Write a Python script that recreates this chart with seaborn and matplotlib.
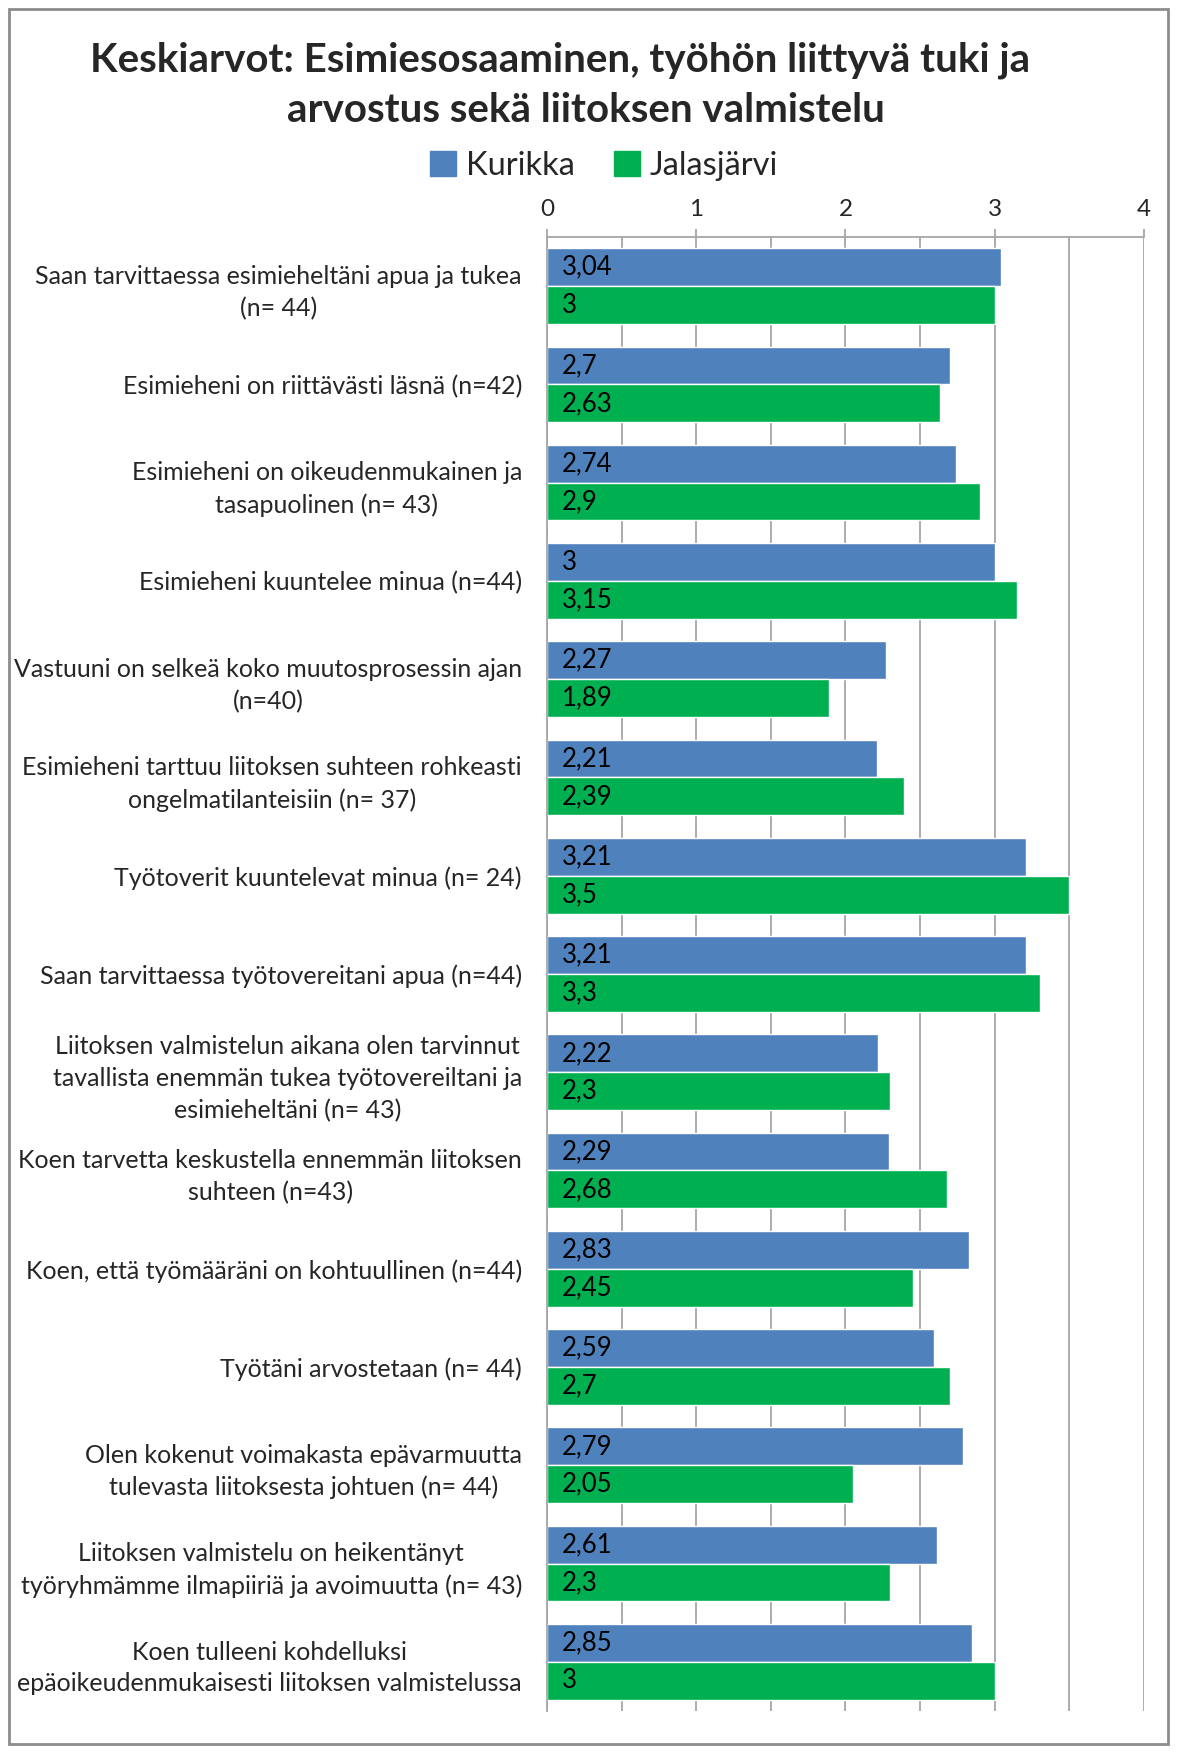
import matplotlib
matplotlib.use("Agg")
import matplotlib.pyplot as plt
import matplotlib.patches as mpatches
from matplotlib.ticker import MultipleLocator, FixedLocator
import pandas as pd
import seaborn as sns

# data
kysymykset = [
    "Saan tarvittaessa esimieheltäni apua ja tukea\n(n= 44)",
    "Esimieheni on riittävästi läsnä (n=42)",
    "Esimieheni on oikeudenmukainen ja\ntasapuolinen (n= 43)",
    "Esimieheni kuuntelee minua (n=44)",
    "Vastuuni on selkeä koko muutosprosessin ajan\n(n=40)",
    "Esimieheni tarttuu liitoksen suhteen rohkeasti\nongelmatilanteisiin (n= 37)",
    "Työtoverit kuuntelevat minua (n= 24)",
    "Saan tarvittaessa työtovereitani apua (n=44)",
    "Liitoksen valmistelun aikana olen tarvinnut\ntavallista enemmän tukea työtovereiltani ja\nesimieheltäni (n= 43)",
    "Koen tarvetta keskustella ennemmän liitoksen\nsuhteen (n=43)",
    "Koen, että työmääräni on kohtuullinen (n=44)",
    "Työtäni arvostetaan (n= 44)",
    "Olen kokenut voimakasta epävarmuutta\ntulevasta liitoksesta johtuen (n= 44)",
    "Liitoksen valmistelu on heikentänyt\ntyöryhmämme ilmapiiriä ja avoimuutta (n= 43)",
    "Koen tulleeni kohdelluksi\nepäoikeudenmukaisesti liitoksen valmistelussa",
]
kurikka = [3.04, 2.7, 2.74, 3, 2.27, 2.21, 3.21, 3.21, 2.22, 2.29, 2.83, 2.59, 2.79, 2.61, 2.85]
jalasjarvi = [3, 2.63, 2.9, 3.15, 1.89, 2.39, 3.5, 3.3, 2.3, 2.68, 2.45, 2.7, 2.05, 2.3, 3]
kunnat = ["Kurikka", "Jalasjärvi"]
varit = ["#4F81BD", "#00B050"]

df = pd.DataFrame({
    "kysymys": kysymykset * 2,
    "arvo": kurikka + jalasjarvi,
    "kunta": [kunnat[0]] * len(kurikka) + [kunnat[1]] * len(jalasjarvi),
})

sns.set_style("white")
plt.rcParams["font.family"] = ["Lato", "DejaVu Sans"]

fig = plt.figure(figsize=(11.77, 17.53), dpi=100)
ax = fig.add_axes([0.4647, 0.024, 0.5073, 0.8408])

sns.barplot(data=df, x="arvo", y="kysymys", hue="kunta", palette=varit,
            orient="h", width=0.77, ax=ax, legend=False, saturation=1)

# value labels inside the bars, Finnish decimal comma
for cont in ax.containers:
    for p in cont.patches:
        v = p.get_width()
        txt = ("%g" % v).replace(".", ",")
        ax.text(0.1, p.get_y() + p.get_height() / 2, txt,
                va="center", ha="left", fontsize=18.5, color="black")

ax.set_xlim(0, 4)
ax.set_ylim(len(kysymykset) - 0.5, -0.5)
ax.xaxis.tick_top()
ax.xaxis.set_major_locator(MultipleLocator(1))
ax.xaxis.set_minor_locator(MultipleLocator(0.5))
ax.grid(axis="x", which="both", color="#A6A6A6", linewidth=1.3)
ax.set_axisbelow(True)
ax.tick_params(axis="x", which="major", length=6, width=1.3, color="#A6A6A6",
               labelsize=17.5, pad=6)
ax.tick_params(axis="x", which="minor", length=0)
ax.set_xlabel("")
ax.set_ylabel("")

ax.yaxis.set_minor_locator(FixedLocator([i - 0.5 for i in range(len(kysymykset) + 1)]))
ax.tick_params(axis="y", which="major", length=0, labelsize=18, pad=18)
ax.tick_params(axis="y", which="minor", length=7, width=1.3, color="#A6A6A6")
for lab in ax.get_yticklabels():
    lab.set_multialignment("center")
    lab.set_linespacing(1.45)

for s in ["right", "bottom"]:
    ax.spines[s].set_visible(False)
for s in ["left", "top"]:
    ax.spines[s].set_color("#A6A6A6")
    ax.spines[s].set_linewidth(1.3)

# title in two lines, as in the original
fig.text(0.476, 1 - 60 / 1753, "Keskiarvot: Esimiesosaaminen, työhön liittyvä tuki ja",
         ha="center", va="center", fontsize=29, fontweight="bold")
fig.text(0.498, 1 - 111 / 1753, "arvostus sekä liitoksen valmistelu",
         ha="center", va="center", fontsize=29, fontweight="bold")

handles = [mpatches.Patch(color=c, label=k) for k, c in zip(kunnat, varit)]
fig.legend(handles=handles, loc="center", bbox_to_anchor=(0.513, 1 - 166 / 1753),
           ncol=2, frameon=False, fontsize=23.5, handlelength=0.8, handleheight=0.8,
           handletextpad=0.3, columnspacing=1.2)

# chart area border
fig.patches.append(mpatches.Rectangle((0.008, 0.005), 0.984, 0.99, transform=fig.transFigure,
                                      fill=False, edgecolor="#8C8C8C", linewidth=2))

fig.savefig("out.png", dpi=100, facecolor="white")
